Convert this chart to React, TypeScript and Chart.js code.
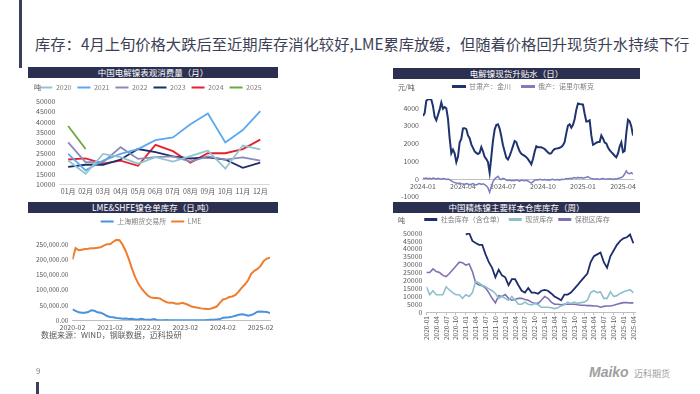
import React, { useEffect, useRef } from "react";
import { Chart, registerables } from "chart.js";
Chart.register(...registerables);

const FONT = '"Noto Sans CJK SC", "Liberation Sans", sans-serif';
const TICK = "#595959";

// ---------- Chart 1: 中国电解镍表观消费量（月） ----------
const monthLabels = ["01月", "02月", "03月", "04月", "05月", "06月", "07月", "08月", "09月", "10月", "11月", "12月"];
const cons2020 = [21500, 15200, 24700, 23100, 20000, 23100, 21000, 23600, 26300, 17600, 28700, 26800];
const cons2021 = [24700, 16800, 21500, 24700, 27000, 31300, 32600, 38900, 44000, 30200, 36100, 45200];
const cons2022 = [30200, 20700, 20700, 27900, 22300, 23100, 23500, 21000, 23500, 22000, 23000, 21500];
const cons2023 = [18500, 19500, 19500, 22000, 27000, 25500, 23500, 22500, 23000, 22000, 18000, 20500];
const cons2024 = [22000, 22500, 20000, 21500, 19000, 29000, 26000, 20500, 25000, 25000, 27000, 31500];
const cons2025 = [38000, 27000];
const consYTicks = [10000, 15000, 20000, 25000, 30000, 35000, 40000, 45000, 50000];

// ---------- Chart 2: 电解镍现货升贴水（日） ----------
const premiumSeriesNames = ["甘肃产：金川", "俄产：诺里尔斯克"];
const premiumTickPos = [0, 24, 48, 72, 96, 120];
const premiumTickLabels = ["2024-01", "2024-04", "2024-07", "2024-10", "2025-01", "2025-04"];
const premiumYTicks = [-1000, 0, 1000, 2000, 3000, 4000];
const jinchuanPremium = [
  3550, 3700, 4400, 4480, 4480, 4470, 4100, 3500, 3300, 3600,
  3900, 4300, 3950, 4050, 3980, 3400, 2300, 1450, 1650, 1450,
  950, 1250, 2050, 2260, 2850, 2860, 2810, 2450, 2300, 1950,
  1750, 1550, 1470, 1400, 1470, 1800, 1560, 1250, 1120, 950,
  350, 1250, 2150, 2780, 3040, 3080, 2840, 2400, 1900, 1550,
  1200, 1100, 1300, 1560, 1850, 2140, 2080, 1790, 1560, 1420,
  1360, 1300, 1230, 1120, 980, 830, 1130, 1530, 1840, 1790,
  1780, 1780, 1740, 1690, 1590, 1490, 1430, 1450, 1600, 1690,
  1710, 1730, 1760, 1800, 1900, 2080, 2580, 3010, 3080, 2890,
  3050, 3380, 3900, 4250, 4220, 4200, 4180, 3670, 3230, 3250,
  3300, 2450, 1930, 1980, 2040, 2080, 2080, 2450, 2280, 2050,
  2000, 1770, 1620, 1510, 1420, 1310, 1220, 1440, 1830, 2060,
  1520, 1580, 2600, 3330, 3250, 2960, 2450,
];
const norilskPremium = [
  50, 30, 60, 20, 40, 10, 50, 30, 0, 40, 20, -10, 30, 10, -20, 0, -40,
  -100, -160, -200, -230, -250, -220, -260, -280,
  -300, -260, -280, -320, -290, -260, -300, -330, -280, -250, -300, -270, -320, -380,
  -500, -750, -420, -150,
  0, 80, 150, 20, -30, 40, 0, -60,
  -80, -60, -100, -70, -90, -50, -80, -120, -60, -90, -100, -70, -110, -180, -230,
  -150, -60, -40, -50, -20, -40, -60, -30, -50, -40, -70, -30, -20, -50, -40, -30, -60, -20, -30, -10,
  30, 0, 40, 20, 60, 80, 50, 90, 60, 80, 40, 70, 100, 140, 60, 30,
  10, -10, 20, 0, -20, 10, 30, 0, -10, 20, 0, 10, -20, 10, 0, 30, 60,
  80, 150, 280, 450, 320, 300, 360, 280,
];
const premiumColors = ["#1f336f", "#7c7cc0"];

// ---------- Chart 3: LME&SHFE镍仓单库存（日,吨） ----------
const warrantTickPos = [0, 12, 24, 36, 48, 60];
const warrantTickLabels = ["2020-02", "2021-02", "2022-02", "2023-02", "2024-02", "2025-02"];
const warrantYTicks = [0, 50000, 100000, 150000, 200000, 250000];
const lmeStock = [
  200000, 237000, 230000, 232000, 234000, 235000, 237000, 237000, 238000, 240000,
  245000, 250000, 250000, 258000, 264000, 263000, 248000, 227000, 200000, 169000,
  142000, 121000, 105000, 93000, 82000, 76000, 74000, 74000, 72000, 65000,
  60000, 58000, 58000, 55000, 55000, 58000, 55000, 51000, 46000, 44000,
  42000, 40000, 39000, 38000, 39000, 42000, 46000, 58000, 69000, 72000,
  77000, 79000, 84000, 95000, 108000, 118000, 132000, 153000, 163000, 169000,
  179000, 195000, 203000, 206000,
];
const shfeStock = [
  37000, 32000, 27000, 26000, 26000, 28000, 34000, 32000, 27000, 26000,
  21000, 15000, 12000, 11000, 8500, 8000, 6000, 6500, 5000, 6000,
  4000, 4000, 6000, 4000, 3000, 3000, 5000, 2000, 1500, 1500,
  2000, 1500, 1200, 1500, 1000, 1500, 1200, 1000, 1500, 1200,
  1000, 1500, 1500, 2000, 2500, 3000, 4000, 5000, 9000, 10000,
  11000, 13000, 16000, 19000, 21000, 19000, 16000, 18000, 23000, 29000,
  30000, 29000, 28000, 25000,
];

// ---------- Chart 4: 中国精炼镍主要样本仓库库存（周） ----------
const stockTickPos = [0, 3, 6, 9, 12, 15, 18, 21, 24, 27, 30, 33, 36, 39, 42, 45, 48, 51, 54, 57, 60, 63];
const stockTickLabels = [
  "2020-01", "2020-04", "2020-07", "2020-10", "2021-01", "2021-04", "2021-07", "2021-10",
  "2022-01", "2022-04", "2022-07", "2022-10", "2023-01", "2023-04", "2023-07", "2023-10",
  "2024-01", "2024-04", "2024-07", "2024-10", "2025-01", "2025-04",
];
const stockYTicks = [0, 5000, 10000, 15000, 20000, 25000, 30000, 35000, 40000, 45000, 50000];
const socialStock = [
  null, null, null, null, null, null, null, null, null, null, null, null,
  49000, 50000, 45000, 43700, 42500, 42500, 36500, 31600, 28000, 22000,
  26800, 23200, 22000, 17000, 20800, 20800, 17000, 13500, 12300, 15200,
  12300, 12300, 11600, 13500, 14000, 13500, 11800, 9900, 8700, 7500,
  11100, 11100, 12300, 14700, 17000, 19600, 22000, 24400, 31600, 35300,
  36500, 37700, 31600, 28000, 35300, 38900, 42500, 45000, 46600, 47300,
  49000, 43500,
];
const spotStock = [
  16000, 11000, 13500, 11000, 11000, 11000, 16000, 14000, 12300, 11000,
  11000, 8700, 11000, 9900, 12300, 19600, 18400, 17000, 16000, 14700,
  13500, 11800, 8700, 9900, 8700, 7500, 9900, 7500, 5000, 5000,
  6300, 5000, 4600, 5500, 4600, 3100, 3100, 3100, 2700, 2200,
  2700, 3900, 4600, 6300, 5500, 6300, 5500, 6000, 6300, 7500,
  12300, 13500, 12300, 12800, 8700, 8700, 12800, 9900, 10400, 11800,
  12800, 13500, 14200, 12300,
];
const bondedStock = [
  25000, 25000, 27300, 25600, 25000, 23200, 22500, 24400, 26800, 29200,
  31600, 31200, 29700, 30400, 25600, 18400, 17100, 16700, 15200, 12300,
  8700, 5800, 10400, 9900, 11100, 8700, 7500, 8000, 8700, 8700,
  8000, 7500, 6300, 5500, 5500, 7500, 9900, 8700, 6300, 5000,
  5000, 4600, 5000, 5000, 5000, 5000, 4600, 4300, 4300, 4100,
  4100, 3900, 3900, 3100, 3600, 3900, 3900, 4300, 5000, 5500,
  6000, 6000, 5800, 5800,
];

// ---------- helpers ----------
const toXY = (arr: (number | null)[]) => arr.map((v, i) => ({ x: i, y: v }));
const fixedTicks = (vals: number[]) => (scale: any) => {
  scale.ticks = vals.map((v) => ({ value: v }));
};
const plain = (v: number) => String(v);
const legendOpts = (boxH: number, boxW: number, pad: number) => ({
  display: true,
  position: "top" as const,
  labels: {
    boxWidth: boxW,
    boxHeight: boxH,
    padding: pad,
    color: "#7f7f7f",
    font: { size: 7, family: FONT },
    generateLabels: (chart: any) =>
      (Chart.defaults.plugins.legend.labels as any).generateLabels(chart).map((l: any) => ({ ...l, lineWidth: 0 })),
  },
});
const line = (label: string, data: any[], color: string, width: number) => ({
  label,
  data,
  borderColor: color,
  backgroundColor: color,
  borderWidth: width,
  pointRadius: 0,
  tension: 0,
  spanGaps: false,
});

function ChartBox({ left, top, width, height, make }: any) {
  const ref = useRef<HTMLCanvasElement>(null);
  useEffect(() => {
    const chart = new Chart(ref.current as HTMLCanvasElement, make());
    return () => chart.destroy();
  }, []);
  return (
    <div style={{ position: "absolute", left, top, width, height }}>
      <canvas ref={ref} />
    </div>
  );
}

const baseOpts = (extra: any) => ({
  responsive: true,
  maintainAspectRatio: false,
  animation: false,
  ...extra,
});

const tickFont = { size: 7, family: FONT };
const noGrid = { display: false, drawTicks: false };

const makeChart1 = () => ({
  type: "line",
  data: {
    labels: monthLabels,
    datasets: [
      line("2020", cons2020, "#93c4d0", 1.8),
      line("2021", cons2021, "#5aa8f2", 1.8),
      line("2022", cons2022, "#8a8ab8", 1.8),
      line("2023", cons2023, "#1f2d6b", 1.8),
      line("2024", cons2024, "#e6202e", 1.8),
      line("2025", cons2025, "#6aaa3a", 1.8),
    ],
  },
  options: baseOpts({
    layout: { padding: { left: 12, right: 13, top: 0, bottom: 0 } },
    plugins: { legend: legendOpts(2, 13, 6), tooltip: { enabled: false } },
    scales: {
      x: {
        offset: true,
        grid: noGrid,
        border: { color: "#d9d9d9" },
        ticks: { color: TICK, font: tickFont, padding: 3, maxRotation: 0, autoSkip: false },
      },
      y: {
        min: 10000,
        max: 50000,
        afterBuildTicks: fixedTicks(consYTicks),
        grid: noGrid,
        border: { display: false },
        ticks: { color: TICK, font: tickFont, padding: 4, autoSkip: false, callback: plain },
      },
    },
  }),
});

const makeChart2 = () => ({
  type: "line",
  data: {
    datasets: [
      line(premiumSeriesNames[0], toXY(jinchuanPremium), premiumColors[0], 2),
      line(premiumSeriesNames[1], toXY(norilskPremium), premiumColors[1], 1.5),
    ],
  },
  options: baseOpts({
    layout: { padding: { left: 12, right: 10, top: 20, bottom: 0 } },
    plugins: { legend: { display: false }, tooltip: { enabled: false } },
    scales: {
      x: {
        type: "linear",
        position: { y: 0 },
        min: 0,
        max: 126,
        afterBuildTicks: fixedTicks(premiumTickPos),
        grid: noGrid,
        border: { color: "#bfbfbf" },
        ticks: {
          color: TICK,
          font: tickFont,
          padding: 3,
          maxRotation: 0,
          autoSkip: false,
          callback: (v: number) => premiumTickLabels[premiumTickPos.indexOf(v)] ?? "",
        },
      },
      y: {
        min: -1000,
        max: 4500,
        afterBuildTicks: fixedTicks(premiumYTicks),
        grid: noGrid,
        border: { display: false },
        ticks: { color: TICK, font: tickFont, padding: 4, autoSkip: false, callback: plain },
      },
    },
  }),
});

const makeChart3 = () => ({
  type: "line",
  data: {
    datasets: [
      line("上海期货交易所", toXY(shfeStock), "#4a93dc", 2),
      line("LME", toXY(lmeStock), "#ee7d2e", 2),
    ],
  },
  options: baseOpts({
    layout: { padding: { left: 10, right: 10, top: 0, bottom: 0 } },
    plugins: { legend: legendOpts(2, 13, 5), tooltip: { enabled: false } },
    scales: {
      x: {
        type: "linear",
        min: 0,
        max: 63,
        afterBuildTicks: fixedTicks(warrantTickPos),
        grid: noGrid,
        border: { color: "#bfbfbf" },
        ticks: {
          color: TICK,
          font: tickFont,
          padding: 3,
          maxRotation: 0,
          autoSkip: false,
          callback: (v: number) => warrantTickLabels[warrantTickPos.indexOf(v)] ?? "",
        },
      },
      y: {
        min: 0,
        max: 280000,
        afterBuildTicks: fixedTicks(warrantYTicks),
        grid: noGrid,
        border: { display: false },
        ticks: {
          color: TICK,
          font: { size: 6.5, family: FONT },
          padding: 4,
          autoSkip: false,
          callback: (v: number) =>
            v.toLocaleString("en-US", { minimumFractionDigits: 2, maximumFractionDigits: 2 }),
        },
      },
    },
  }),
});

const makeChart4 = () => ({
  type: "line",
  data: {
    datasets: [
      line("社会库存（含仓单）", toXY(socialStock), "#1f2d6b", 1.8),
      line("现货库存", toXY(spotStock), "#8dc0cb", 1.6),
      line("保税区库存", toXY(bondedStock), "#8072b2", 1.6),
    ],
  },
  options: baseOpts({
    layout: { padding: { left: 14, right: 8, top: 0, bottom: 0 } },
    plugins: { legend: legendOpts(3, 13, 5), tooltip: { enabled: false } },
    scales: {
      x: {
        type: "linear",
        min: 0,
        max: 63.5,
        afterBuildTicks: fixedTicks(stockTickPos),
        grid: { display: true, drawOnChartArea: false, drawTicks: true, tickLength: 3, color: "#bfbfbf" },
        border: { color: "#bfbfbf" },
        ticks: {
          color: TICK,
          font: { size: 6.5, family: FONT },
          padding: 1,
          autoSkip: false,
          maxRotation: 90,
          minRotation: 90,
          callback: (v: number) => stockTickLabels[stockTickPos.indexOf(v)] ?? "",
        },
      },
      y: {
        min: 0,
        max: 50000,
        afterBuildTicks: fixedTicks(stockYTicks),
        grid: noGrid,
        border: { display: false },
        ticks: { color: TICK, font: tickFont, padding: 4, autoSkip: false, callback: plain },
      },
    },
  }),
});

const titleBar = (left: number, top: number, width: number, text: string) => (
  <div
    style={{
      position: "absolute",
      left,
      top,
      width,
      height: 11,
      background: "#2c3050",
      color: "#ffffff",
      fontSize: 8.5,
      lineHeight: "11px",
      textAlign: "center",
      whiteSpace: "nowrap",
      fontFamily: FONT,
    }}
  >
    {text}
  </div>
);

const smallText = (left: number, top: number, text: string, size = 7, color = TICK) => (
  <div
    style={{ position: "absolute", left, top, fontSize: size, lineHeight: `${size + 2}px`, color, whiteSpace: "nowrap", fontFamily: FONT }}
  >
    {text}
  </div>
);

const htmlLegend = (left: number, top: number, names: string[], colors: string[], gap: number) => (
  <div style={{ position: "absolute", left, top, display: "flex", alignItems: "center", whiteSpace: "nowrap", fontFamily: FONT }}>
    {names.map((n, i) => (
      <div key={n} style={{ display: "flex", alignItems: "center", marginRight: gap }}>
        <div style={{ width: 14, height: 3, background: colors[i], marginRight: 3 }} />
        <span style={{ fontSize: 7, lineHeight: "9px", color: "#7f7f7f" }}>{n}</span>
      </div>
    ))}
  </div>
);

export default function App() {
  return (
    <div
      style={{
        position: "absolute",
        left: 0,
        top: 0,
        width: 700,
        height: 394,
        background: "#ffffff",
        overflow: "hidden",
        fontFamily: FONT,
      }}
    >
      <div style={{ position: "absolute", left: 19, top: 0, width: 3, height: 68, background: "#3b3f5c" }} />
      <div
        style={{
          position: "absolute",
          left: 35,
          top: 33,
          fontSize: 15.3,
          lineHeight: "20px",
          color: "#3c3f55",
          whiteSpace: "nowrap",
        }}
      >
        库存：4月上旬价格大跌后至近期库存消化较好,LME累库放缓，但随着价格回升现货升水持续下行
      </div>

      {titleBar(28, 67, 250, "中国电解镍表观消费量（月）")}
      {titleBar(393, 68, 247, "电解镍现货升贴水（日）")}
      {titleBar(28, 202, 250, "LME&SHFE镍仓单库存（日,吨）")}
      {titleBar(393, 202, 247, "中国精炼镍主要样本仓库库存（周）")}

      <ChartBox left={20} top={78} width={262} height={121} make={makeChart1} />
      <ChartBox left={385} top={79} width={258} height={126} make={makeChart2} />
      <ChartBox left={22} top={213} width={258} height={122} make={makeChart3} />
      <ChartBox left={385} top={211} width={258} height={130} make={makeChart4} />

      {htmlLegend(452, 82, premiumSeriesNames, premiumColors, 10)}

      {smallText(34, 83, "吨")}
      {smallText(398, 83, "元/吨")}
      {smallText(398, 216, "吨")}
      {smallText(41, 330, "数据来源：WIND，钢联数据，迈科投研", 8)}

      {smallText(36, 366, "9", 8, "#7f7f7f")}
      <div style={{ position: "absolute", left: 36, top: 382, width: 3, height: 12, background: "#3b3f5c" }} />
      <div
        style={{
          position: "absolute",
          left: 589,
          top: 364,
          fontSize: 14,
          fontWeight: "bold",
          fontStyle: "italic",
          color: "#a0a0a0",
          fontFamily: '"Liberation Sans", sans-serif',
          whiteSpace: "nowrap",
        }}
      >
        Maiko
      </div>
      {smallText(634, 368, "迈科期货", 9, "#a0a0a0")}
    </div>
  );
}
